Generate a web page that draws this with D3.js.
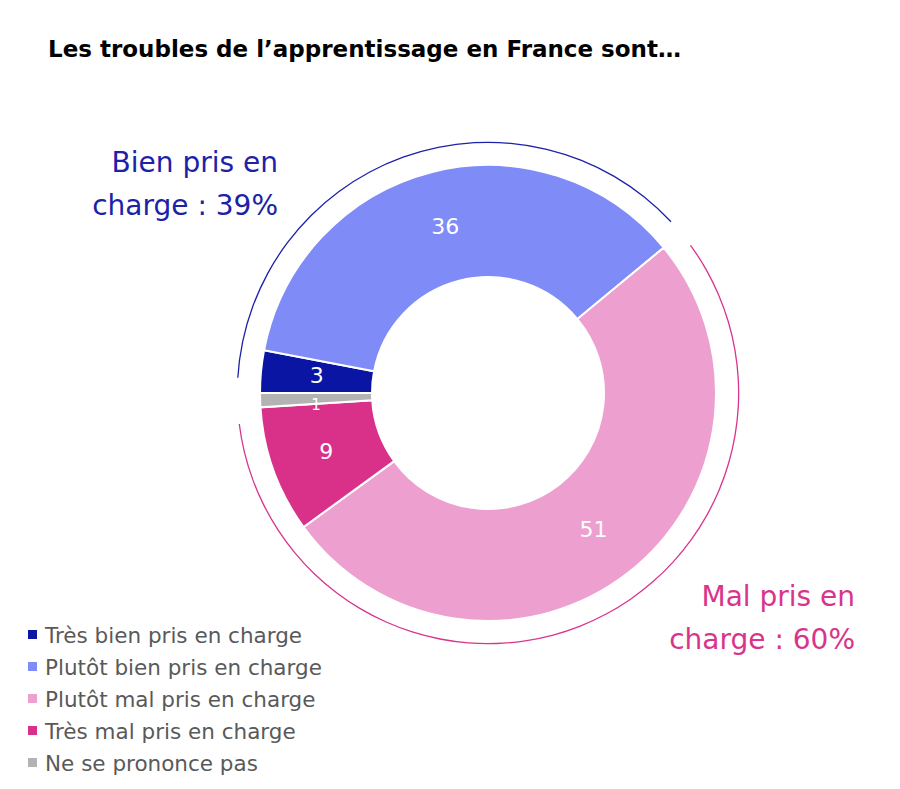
<!DOCTYPE html>
<html>
<head>
<meta charset="utf-8">
<script src="https://cdn.jsdelivr.net/npm/d3@7.9.0/dist/d3.min.js"></script>
<style>
  body { margin: 0; background: #fff; }
  svg { display: block; }
</style>
</head>
<body>
<div id="chart"></div>
<script>
const categories = ["Très bien pris en charge", "Plutôt bien pris en charge", "Plutôt mal pris en charge", "Très mal pris en charge", "Ne se prononce pas"];
const values = [3, 36, 51, 9, 1];
const colors = ["#0a16a3", "#7f8bf6", "#eda0cf", "#d9318a", "#b3b3b3"];
const groupLabels = [["Bien pris en", "charge : 39%"], ["Mal pris en", "charge : 60%"]];
const groupColors = ["#1c22a8", "#d9348c"];
const groupSpans = [[0, 2], [2, 4]]; // index ranges of slices in each group

const width = 900, height = 789;
const cx = 488, cy = 393;
const outerR = 228, innerR = 116, ringR = 250;
const font = "'DejaVu Sans', 'Open Sans', sans-serif";

const svg = d3.select("#chart").append("svg")
    .attr("width", width)
    .attr("height", height);

svg.append("text")
    .attr("x", 48)
    .attr("y", 57)
    .attr("font-family", font)
    .attr("font-weight", "bold")
    .attr("font-size", 23)
    .attr("fill", "#000")
    .text("Les troubles de l\u2019apprentissage en France sont\u2026");

const pie = d3.pie()
    .sort(null)
    .value(d => d)
    .startAngle(-Math.PI / 2)
    .endAngle(3 * Math.PI / 2);

const arcs = pie(values);

const arc = d3.arc()
    .innerRadius(innerR)
    .outerRadius(outerR);

const g = svg.append("g").attr("transform", `translate(${cx},${cy})`);

g.selectAll("path.slice")
    .data(arcs)
    .enter()
    .append("path")
    .attr("class", "slice")
    .attr("d", arc)
    .attr("fill", (d, i) => colors[i])
    .attr("stroke", "#fff")
    .attr("stroke-width", 2);

const labelArc = d3.arc().innerRadius(172).outerRadius(172);
// small nudges so the two thin slices' labels do not collide
const nudge = [-2, 0, 0, 0, 6];

g.selectAll("text.val")
    .data(arcs)
    .enter()
    .append("text")
    .attr("class", "val")
    .attr("transform", (d, i) => {
        const [x, y] = labelArc.centroid(d);
        return `translate(${x},${y + nudge[i]})`;
    })
    .attr("text-anchor", "middle")
    .attr("dy", "0.35em")
    .attr("font-family", font)
    .attr("font-size", (d, i) => i === 4 ? 15 : 22)
    .attr("fill", "#fff")
    .text(d => d.data);

// thin outer arcs marking the two groups
const pad = 3.5 * Math.PI / 180;
const ring = d3.arc().innerRadius(ringR).outerRadius(ringR + 1.3);
groupSpans.forEach((s, k) => {
    g.append("path")
        .attr("d", ring({
            startAngle: arcs[s[0]].startAngle + pad,
            endAngle: arcs[s[1] - 1].endAngle - pad
        }))
        .attr("fill", groupColors[k]);
});

// group labels
const groupPos = [{x: 278, y: 172}, {x: 855, y: 606}];
groupLabels.forEach((lines, k) => {
    const t = svg.append("text")
        .attr("text-anchor", "end")
        .attr("font-family", font)
        .attr("font-size", 28)
        .attr("fill", groupColors[k]);
    lines.forEach((line, j) => {
        t.append("tspan")
            .attr("x", groupPos[k].x)
            .attr("y", groupPos[k].y + j * 43)
            .text(line);
    });
});

// legend
const legend = svg.append("g").attr("transform", "translate(28,635)");
const rows = legend.selectAll("g")
    .data(categories)
    .enter()
    .append("g")
    .attr("transform", (d, i) => `translate(0,${i * 32})`);

rows.append("rect")
    .attr("x", 0)
    .attr("y", -5)
    .attr("width", 9)
    .attr("height", 9)
    .attr("fill", (d, i) => colors[i]);

rows.append("text")
    .attr("x", 17)
    .attr("y", 0)
    .attr("dy", "0.35em")
    .attr("font-family", font)
    .attr("font-size", 21.5)
    .attr("fill", "#595959")
    .text(d => d);
</script>
</body>
</html>
